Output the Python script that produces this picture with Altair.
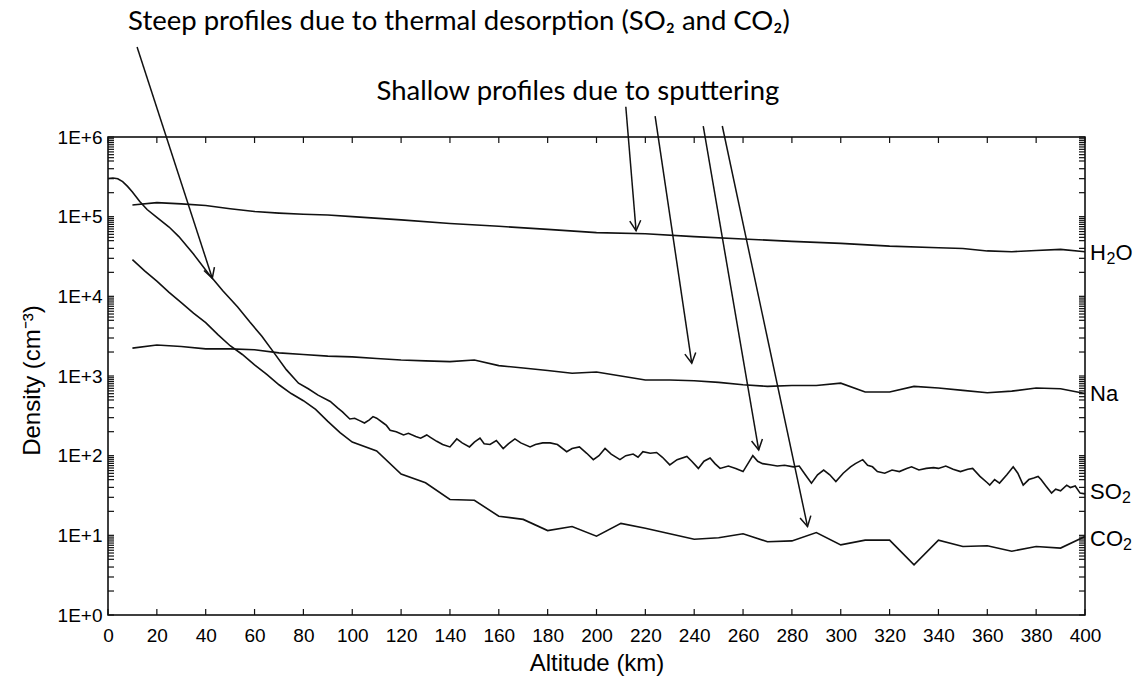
import math
import altair as alt
import pandas as pd

# ---------------- data (density as log10) ----------------
h2o_alt = [10, 20, 30, 40, 50, 60, 70, 80, 90, 100, 120, 140, 160, 180, 200, 220, 240,
           260, 280, 300, 320, 340, 350, 360, 370, 380, 390, 400]
h2o_log = [5.147, 5.176, 5.16, 5.14, 5.10, 5.065, 5.045, 5.03, 5.02, 5.0, 4.96, 4.915,
           4.88, 4.84, 4.80, 4.785, 4.75, 4.72, 4.69, 4.665, 4.63, 4.61, 4.60, 4.57,
           4.56, 4.575, 4.59, 4.56]

na_alt = [10, 20, 30, 40, 50, 60, 70, 80, 90, 100, 110, 120, 130, 140, 150, 160, 170,
          180, 190, 200, 210, 220, 230, 240, 250, 260, 270, 280, 290, 300, 310, 320,
          330, 340, 350, 360, 370, 380, 390, 400]
na_log = [3.35, 3.39, 3.37, 3.34, 3.34, 3.33, 3.29, 3.27, 3.25, 3.24, 3.22, 3.20, 3.19,
          3.18, 3.20, 3.13, 3.10, 3.07, 3.035, 3.05, 3.0, 2.95, 2.95, 2.94, 2.92, 2.89,
          2.87, 2.88, 2.88, 2.91, 2.80, 2.80, 2.87, 2.85, 2.82, 2.79, 2.81, 2.85, 2.84,
          2.78]

so2_alt = [0, 2, 4, 6, 8, 10, 13, 16, 20, 25, 29, 35, 41, 47, 53, 58, 63, 68, 73, 78,
           82, 86, 91, 94, 96, 99, 101, 103, 105, 107, 108.5, 110, 112.7, 114, 115.5,
           118, 121, 123, 126, 128, 130.5, 132, 134.6, 137, 140, 142.8, 145, 148, 150,
           152.3, 154, 156.4, 159, 161.8, 164, 166.6, 169, 172.8, 175, 178, 181, 184,
           187.8, 190, 193, 196, 198.7, 201, 203.5, 206, 209.6, 212, 215, 217, 219, 222,
           224.6, 227, 230, 233, 237, 239, 241.7, 244, 246.5, 248.5, 250.6, 254, 257,
           260, 262, 264, 266, 268, 271, 274, 277, 280.6, 283, 285.5, 288, 290.5, 293,
           295.5, 298, 301, 304, 306, 309, 311, 313, 315, 318, 321, 324, 327, 329, 332,
           335, 338, 340, 343, 346, 349, 352, 354, 357, 360, 361, 363, 365, 368, 370.6,
           372.5, 374.7, 377, 379, 380.8, 382, 384, 386.3, 388, 390, 392.5, 394, 396,
           398, 400]
so2_log = [5.48, 5.485, 5.475, 5.44, 5.38, 5.31, 5.19, 5.09, 4.99, 4.87, 4.75, 4.53,
           4.29, 4.07, 3.87, 3.68, 3.50, 3.29, 3.08, 2.91, 2.84, 2.76, 2.68, 2.60, 2.55,
           2.46, 2.47, 2.44, 2.41, 2.45, 2.49, 2.47, 2.41, 2.38, 2.32, 2.30, 2.26, 2.28,
           2.24, 2.22, 2.26, 2.23, 2.18, 2.14, 2.11, 2.21, 2.16, 2.11, 2.17, 2.22, 2.15,
           2.14, 2.19, 2.09, 2.15, 2.21, 2.16, 2.11, 2.14, 2.16, 2.16, 2.14, 2.05, 2.09,
           2.11, 2.03, 1.95, 2.0, 2.09, 2.02, 1.95, 2.0, 2.02, 1.98, 2.05, 2.03, 2.04,
           1.98, 1.885, 1.95, 1.99, 1.93, 1.84, 1.93, 1.97, 1.90, 1.84, 1.87, 1.84, 1.80,
           1.90, 2.0, 1.93, 1.90, 1.885, 1.87, 1.88, 1.86, 1.87, 1.76, 1.655, 1.76, 1.82,
           1.76, 1.675, 1.78, 1.86, 1.90, 1.95, 1.88, 1.86, 1.80, 1.78, 1.82, 1.80, 1.84,
           1.86, 1.82, 1.84, 1.85, 1.84, 1.87, 1.83, 1.80, 1.83, 1.84, 1.74, 1.66, 1.63,
           1.70, 1.655, 1.76, 1.86, 1.78, 1.63, 1.70, 1.72, 1.74, 1.70, 1.62, 1.53, 1.58,
           1.56, 1.63, 1.60, 1.62, 1.53, 1.52]

co2_alt = [10, 15, 20, 25, 30, 35, 40, 45, 50, 55, 60, 65, 70, 75, 80, 85, 90, 95, 100,
           110, 120, 130, 140, 150, 160, 170, 180, 190, 200, 210, 220, 230, 240, 250,
           260, 270, 280, 290, 300, 310, 320, 330, 340, 350, 360, 370, 380, 390, 400]
co2_log = [4.46, 4.32, 4.19, 4.05, 3.92, 3.79, 3.67, 3.52, 3.38, 3.27, 3.14, 3.02, 2.89,
           2.78, 2.69, 2.58, 2.43, 2.29, 2.17, 2.06, 1.77, 1.66, 1.45, 1.44, 1.24, 1.20,
           1.06, 1.11, 0.99, 1.15, 1.09, 1.02, 0.95, 0.97, 1.02, 0.92, 0.93, 1.035, 0.88,
           0.94, 0.94, 0.63, 0.94, 0.86, 0.87, 0.80, 0.86, 0.84, 0.985]

series_names = ["H2O", "Na", "SO2", "CO2"]
# right-hand labels, split into pieces so the subscript "2" can be drawn smaller/lower
label_parts = ["H", "2", "O", "Na", "SO", "2", "CO", "2"]
label_part_log = [4.55, 4.55, 4.55, 2.77, 1.55, 1.55, 0.95, 0.95]
label_part_dx = [5, 21.5, 30.5, 5, 5, 37, 5, 38]        # style: horizontal offsets
label_part_sub = [False, True, False, False, False, True, False, True]

x_tick_values = list(range(0, 401, 20))
y_decades = [1, 10, 100, 1000, 10000, 100000, 1000000]
y_minor_mult = [2, 3, 4, 5, 5.5, 6, 6.5, 7, 7.5, 8, 8.5, 9, 9.5]

# annotation arrows: start (alt, log10) -> end (alt, log10)
arrow_start_alt = [11.9, 212.0, 224.0, 243.7, 251.5]
arrow_start_log = [7.13, 6.38, 6.263, 6.138, 6.138]
arrow_end_alt = [42.7, 216.2, 239.0, 266.4, 286.4]
arrow_end_log = [4.227, 4.824, 3.161, 2.073, 1.110]

note_text = ["Steep profiles due to thermal desorption (SO₂ and CO₂)",
             "Shallow profiles due to sputtering"]
note_alt = [143.7, 192.4]
note_log = [7.443, 6.565]

# ---------------- layout ----------------
W, H = 977, 478
FONT = "Liberation Sans, Arial, Helvetica, sans-serif"
INK = "#111111"

rows = []
for name, a, l in zip(series_names, [h2o_alt, na_alt, so2_alt, co2_alt],
                      [h2o_log, na_log, so2_log, co2_log]):
    for xv, lv in zip(a, l):
        rows.append({"series": name, "alt": xv, "dens": 10 ** lv})
lines_df = pd.DataFrame(rows)

yt = sorted(set([d * m for d in y_decades[:-1] for m in [1] + y_minor_mult] + [1e6]))
ytick_df = pd.DataFrame({"dens": yt})
xtick_df = pd.DataFrame({"alt": x_tick_values})

arrows_df = pd.DataFrame({"alt": arrow_start_alt, "dens": [10 ** v for v in arrow_start_log],
                          "alt2": arrow_end_alt, "dens2": [10 ** v for v in arrow_end_log]})
heads = []
for sa, sl, ea, el in zip(arrow_start_alt, arrow_start_log, arrow_end_alt, arrow_end_log):
    dx = (ea - sa) * W / 400.0
    dy = (sl - el) * H / 6.0
    ang = (-math.degrees(math.atan2(dx, dy))) % 360
    heads.append({"alt": ea, "dens": 10 ** el, "ang": ang})
heads_df = pd.DataFrame(heads)

notes_df = pd.DataFrame({"text": note_text, "alt": note_alt,
                         "dens": [10 ** v for v in note_log]})

X = alt.X("alt:Q", scale=alt.Scale(domain=[0, 400], nice=False, zero=False),
          title="Altitude (km)",
          axis=alt.Axis(values=x_tick_values, ticks=False, domain=False, grid=False,
                        labelFont=FONT, labelFontSize=19, labelColor="black",
                        labelPadding=11, labelFlush=False,
                        titleFont=FONT, titleFontSize=24, titleFontWeight="normal",
                        titleColor="black", titleY=48, titleBaseline="middle"))
Y = alt.Y("dens:Q", scale=alt.Scale(type="log", domain=[1, 1e6], nice=False),
          title="Density (cm⁻³)",
          axis=alt.Axis(values=y_decades, ticks=False, domain=False, grid=False,
                        labelExpr="'1E+' + round(log(datum.value) / LN10)",
                        labelFont=FONT, labelFontSize=19, labelColor="black",
                        labelPadding=6, labelFlush=False, labelBaseline="middle",
                        titleFont=FONT, titleFontSize=24, titleFontWeight="normal",
                        titleColor="black", titleX=-76, titleY=243,
                        titleBaseline="middle", titleAlign="center"))

lines = alt.Chart(lines_df).mark_line(color=INK, strokeWidth=1.6).encode(
    x=X, y=Y, detail="series:N", order="alt:Q")

ytl = alt.Chart(ytick_df).mark_rule(color=INK, strokeWidth=1.2).encode(
    y=Y, x=alt.value(0), x2=alt.value(6))
ytr = alt.Chart(ytick_df).mark_rule(color=INK, strokeWidth=1.2).encode(
    y=Y, x=alt.value(W - 6), x2=alt.value(W))
xtb = alt.Chart(xtick_df).mark_rule(color=INK, strokeWidth=1.2).encode(
    x=X, y=alt.value(H - 6), y2=alt.value(H))
xtt = alt.Chart(xtick_df).mark_rule(color=INK, strokeWidth=1.2).encode(
    x=X, y=alt.value(0), y2=alt.value(6))

label_layers = []
for txt, lg, dxv, sub in zip(label_parts, label_part_log, label_part_dx, label_part_sub):
    part_df = pd.DataFrame({"label": [txt], "alt": [400], "dens": [10 ** lg]})
    label_layers.append(
        alt.Chart(part_df).mark_text(
            align="left", baseline="middle", dx=dxv, dy=6 if sub else 0, font=FONT,
            fontSize=16 if sub else 22, color="black", clip=False
        ).encode(x=X, y=Y, text="label:N")
    )

arrow_lines = alt.Chart(arrows_df).mark_rule(color=INK, strokeWidth=1.5, clip=False).encode(
    x=X, y=Y, x2="alt2:Q", y2="dens2:Q")
arrow_heads = alt.Chart(heads_df).mark_point(
    shape="M -0.55 -1 L 0 0 L 0.55 -1", filled=False, color=INK, strokeWidth=1.5,
    size=400, opacity=1, clip=False
).encode(x=X, y=Y, angle=alt.Angle("ang:Q", scale=None))

notes = alt.Chart(notes_df).mark_text(
    align="center", baseline="middle", font="Lato", fontSize=27.5, color="black", clip=False
).encode(x=X, y=Y, text="text:N")

chart = alt.layer(lines, ytl, ytr, xtb, xtt, *label_layers, arrow_lines, arrow_heads,
                  notes).properties(
    width=W, height=H,
    autosize=alt.AutoSizeParams(type="none"),
    padding={"left": 108, "top": 137, "right": 57, "bottom": 67},
    background="white",
).configure_view(stroke="black", strokeWidth=1.5)

chart.save("out.html", embed_options={"renderer": "svg", "actions": False})
